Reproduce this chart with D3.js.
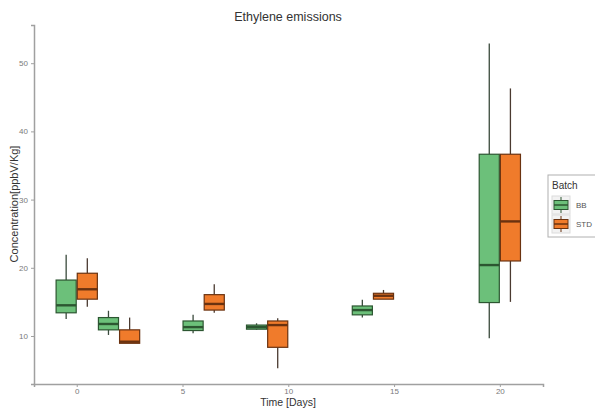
<!DOCTYPE html>
<html>
<head>
<meta charset="utf-8">
<title>Ethylene emissions</title>
<script src="https://cdn.jsdelivr.net/npm/d3@7"></script>
<style>
  body { margin: 0; background: #fff; }
  text { font-family: "Liberation Sans", Arial, sans-serif; }
</style>
</head>
<body>
<div id="chart"></div>
<script>
// data
var days = [0, 2, 6, 9, 14, 20];
var batches = ["BB", "STD"];
// [whisker low, q1, median, q3, whisker high]
var bbStats = [
  [12.5, 13.4, 14.5, 18.2, 21.9],
  [10.15, 10.9, 11.76, 12.7, 13.7],
  [10.4, 10.8, 11.3, 12.2, 13.1],
  [10.9, 11.0, 11.3, 11.6, 11.86],
  [12.7, 13.1, 13.8, 14.4, 15.3],
  [9.66, 14.9, 20.4, 36.65, 52.9]
];
var stdStats = [
  [14.3, 15.4, 16.85, 19.2, 21.4],
  [8.93, 8.93, 9.16, 10.9, 12.7],
  [13.4, 13.8, 14.7, 16.06, 17.6],
  [5.26, 8.34, 11.6, 12.2, 12.6],
  [15.4, 15.4, 15.9, 16.26, 16.75],
  [15.0, 21.0, 26.8, 36.65, 46.3]
];
var xTicks = [0, 5, 10, 15, 20];
var yTicks = [10, 20, 30, 40, 50];

var width = 595, height = 409;
var fills = { BB: "#6cc07a", STD: "#f07b2b" };
var lines = { BB: "#2c5631", STD: "#6a3210" };
var whisk = { BB: "#3a4a3c", STD: "#4a3a30" };

var svg = d3.select("#chart").append("svg")
    .attr("width", width)
    .attr("height", height);

var x = d3.scaleLinear().domain([-2.02, 22.04]).range([34, 543]);
var y = d3.scaleLinear().domain([2.96, 55.6]).range([384, 25]);

// build rows
var rows = [];
days.forEach(function (d, i) {
  rows.push({ day: d, batch: "BB", s: bbStats[i] });
  rows.push({ day: d, batch: "STD", s: stdStats[i] });
});

var boxW = 0.95;
var boxes = svg.append("g").selectAll("g")
    .data(rows)
    .enter().append("g");

function cx(d) { return x(d.day + (d.batch == "BB" ? -0.5 : 0.5)); }
function halfW() { return (x(boxW) - x(0)) / 2; }

boxes.append("line")
    .attr("x1", cx).attr("x2", cx)
    .attr("y1", d => y(d.s[4])).attr("y2", d => y(d.s[3]))
    .attr("stroke", d => whisk[d.batch]).attr("stroke-width", 1.3);
boxes.append("line")
    .attr("x1", cx).attr("x2", cx)
    .attr("y1", d => y(d.s[1])).attr("y2", d => y(d.s[0]))
    .attr("stroke", d => whisk[d.batch]).attr("stroke-width", 1.3);
boxes.append("rect")
    .attr("x", d => cx(d) - halfW())
    .attr("width", 2 * halfW())
    .attr("y", d => y(d.s[3]))
    .attr("height", d => Math.max(y(d.s[1]) - y(d.s[3]), 1))
    .attr("fill", d => fills[d.batch])
    .attr("stroke", d => lines[d.batch])
    .attr("stroke-width", 1.2);
boxes.append("line")
    .attr("x1", d => cx(d) - halfW()).attr("x2", d => cx(d) + halfW())
    .attr("y1", d => y(d.s[2])).attr("y2", d => y(d.s[2]))
    .attr("stroke", d => lines[d.batch]).attr("stroke-width", 2.4);

// axes
var xAxis = svg.append("g")
    .attr("transform", "translate(0,384)")
    .call(d3.axisBottom(x).tickValues(xTicks).tickSize(3).tickPadding(1));
var yAxis = svg.append("g")
    .attr("transform", "translate(34,0)")
    .call(d3.axisLeft(y).tickValues(yTicks).tickSize(3).tickPadding(3));
[xAxis, yAxis].forEach(function (a) {
  a.select(".domain").attr("stroke", "#a0a0a0").attr("stroke-width", 1.5);
  a.selectAll(".tick line").attr("stroke", "#a0a0a0");
  a.selectAll(".tick text").attr("fill", "#7a7a7a").style("font-size", "8px");
});

// titles
svg.append("text")
    .attr("x", 288).attr("y", 21)
    .attr("text-anchor", "middle")
    .attr("fill", "#333")
    .style("font-size", "12.5px")
    .text("Ethylene emissions");
svg.append("text")
    .attr("x", 288).attr("y", 405.5)
    .attr("text-anchor", "middle")
    .attr("fill", "#333")
    .style("font-size", "10.5px")
    .text("Time [Days]");
svg.append("text")
    .attr("transform", "translate(18,204) rotate(-90)")
    .attr("text-anchor", "middle")
    .attr("fill", "#333")
    .style("font-size", "11px")
    .text("Concentration[ppbV/Kg]");

// legend
var lg = svg.append("g").attr("transform", "translate(548,175)");
lg.append("rect")
    .attr("width", 60).attr("height", 62)
    .attr("fill", "#fff").attr("stroke", "#b0b0b0").attr("stroke-width", 1);
lg.append("text")
    .attr("x", 4).attr("y", 14)
    .attr("fill", "#333")
    .style("font-size", "10px")
    .text("Batch");
var key = lg.selectAll(".key")
    .data(batches)
    .enter().append("g")
    .attr("class", "key")
    .attr("transform", (d, i) => "translate(4," + (21 + i * 19) + ")");
key.append("rect")
    .attr("width", 18).attr("height", 18)
    .attr("fill", "#f2f2f2").attr("stroke", "#dcdcdc");
key.append("line")
    .attr("x1", 9).attr("x2", 9).attr("y1", 1).attr("y2", 17)
    .attr("stroke", d => lines[d]);
key.append("rect")
    .attr("x", 2).attr("y", 4.5).attr("width", 14).attr("height", 9)
    .attr("fill", d => fills[d]).attr("stroke", d => lines[d]);
key.append("line")
    .attr("x1", 2).attr("x2", 16).attr("y1", 9).attr("y2", 9)
    .attr("stroke", d => lines[d]).attr("stroke-width", 1.5);
key.append("text")
    .attr("x", 24).attr("y", 12)
    .attr("fill", "#555")
    .style("font-size", "8px")
    .text(d => d);
</script>
</body>
</html>
